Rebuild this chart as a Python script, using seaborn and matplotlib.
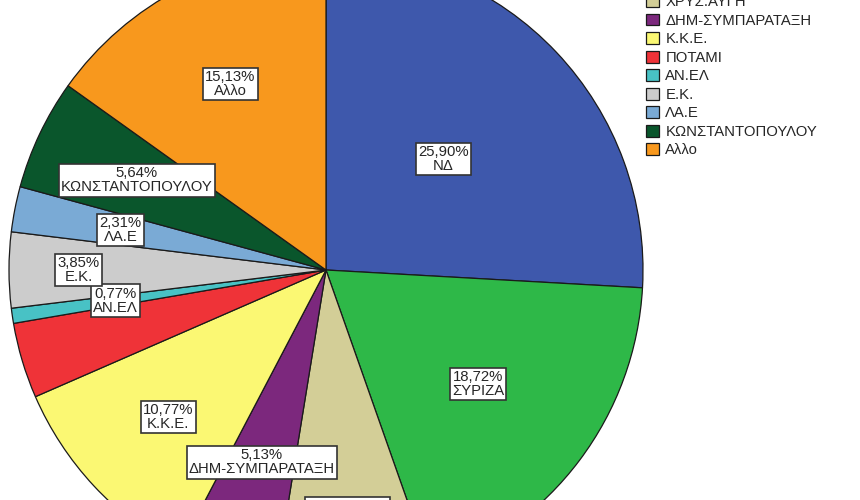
import numpy as np
import matplotlib
matplotlib.use("Agg")
import matplotlib.pyplot as plt
import seaborn as sns

# party shares (%) of the vote sample
parties = ["ΝΔ", "ΣΥΡΙΖΑ", "ΧΡΥΣ.ΑΥΓΗ", "ΔΗΜ-ΣΥΜΠΑΡΑΤΑΞΗ", "Κ.Κ.Ε.", "ΠΟΤΑΜΙ",
           "ΑΝ.ΕΛ", "Ε.Κ.", "ΛΑ.Ε", "ΚΩΝΣΤΑΝΤΟΠΟΥΛΟΥ", "Αλλο"]
shares = [25.90, 18.72, 7.95, 5.13, 10.77, 3.85, 0.77, 3.85, 2.31, 5.64, 15.13]
colors = ["#3E58AC", "#2EB848", "#D3CE97", "#7C287D", "#FBF873", "#EF3338",
          "#48C2C5", "#CCCCCC", "#7AAAD5", "#0A562C", "#F8981D"]

# how far out (fraction of radius) each label box sits; None = no label shown
label_r = [0.51, 0.60, 0.77, 0.64, 0.68, None, 0.67, 0.78, 0.66, 0.66, 0.66]

sns.set_style("white")
plt.rcParams["font.family"] = ["Liberation Sans", "DejaVu Sans"]

fig = plt.figure(figsize=(8.6, 5), dpi=100)
ax = fig.add_axes([0, 0, 1, 1])

cx, cy, R = 326, 230, 317
wedges, _ = ax.pie(shares, colors=colors, startangle=90, counterclock=False,
                   center=(cx, cy), radius=R,
                   wedgeprops=dict(edgecolor="#1a1a1a", linewidth=0.9))

for w, name, val, f in zip(wedges, parties, shares, label_r):
    if f is None:
        continue
    mid = np.deg2rad((w.theta1 + w.theta2) / 2)
    x = cx + f * R * np.cos(mid)
    y = cy + f * R * np.sin(mid)
    txt = f"{val:.2f}%".replace(".", ",") + "\n" + name
    ax.text(x, y, txt, ha="center", va="center", fontsize=10.7, linespacing=1.0,
            bbox=dict(boxstyle="square,pad=0.15", fc="white", ec="#333333", lw=1.2))

ax.legend(wedges, parties, loc="upper left", frameon=False, fontsize=10.7,
          bbox_to_anchor=(646 / 860, 542 / 500), bbox_transform=fig.transFigure,
          borderpad=0, borderaxespad=0, labelspacing=0.30,
          handlelength=0.85, handleheight=0.85, handletextpad=0.45)

ax.set_xlim(0, 860)
ax.set_ylim(0, 500)
ax.set_aspect("equal")
ax.axis("off")

fig.savefig("out.png", dpi=100)
